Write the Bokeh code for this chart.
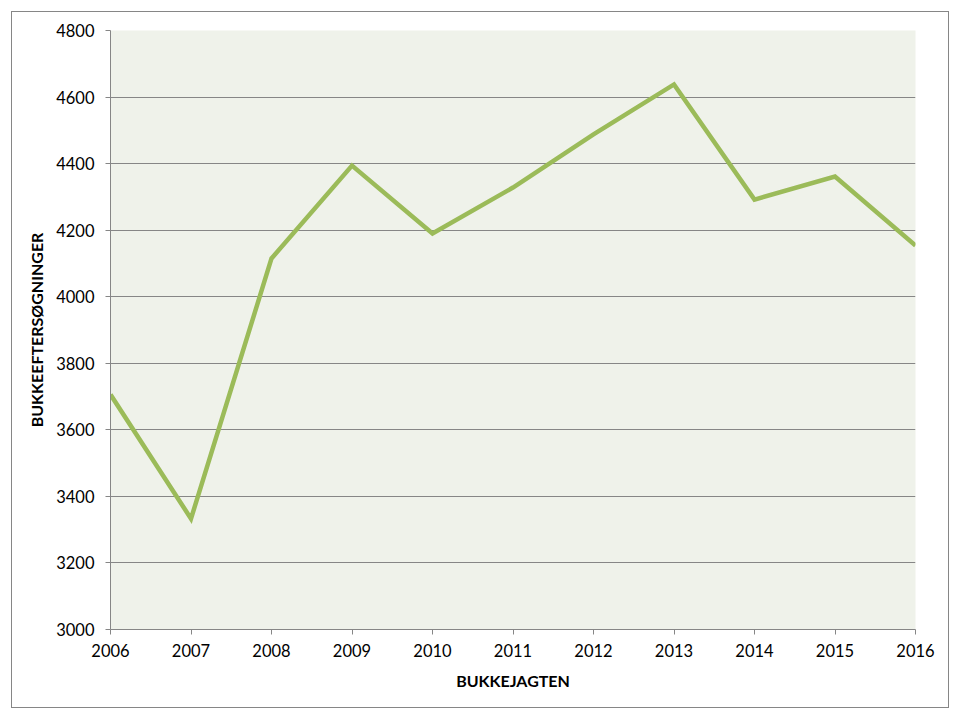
from bokeh.plotting import figure
from bokeh.models import Range1d, FixedTicker
from bokeh.embed import file_html
from bokeh.resources import INLINE

years = [2006, 2007, 2008, 2009, 2010, 2011, 2012, 2013, 2014, 2015, 2016]
values = [3706, 3333, 4115, 4394, 4190, 4328, 4488, 4638, 4292, 4361, 4154]
y_ticks = [3000, 3200, 3400, 3600, 3800, 4000, 4200, 4400, 4600, 4800]
x_title = "BUKKEJAGTEN"
y_title = "BUKKEEFTERSØGNINGER"

FONT = "Lato"
GRAY = "#868686"

p = figure(width=938, height=697, output_backend="svg", toolbar_location=None,
           x_range=Range1d(2006, 2016), y_range=Range1d(3000, 4800),
           min_border_left=98, min_border_right=35, min_border_top=18, min_border_bottom=80)
p.styles = {"border": "1px solid #868686", "margin-left": "11px", "margin-top": "11px"}

p.background_fill_color = "#EFF2EA"
p.border_fill_color = "white"
p.outline_line_color = None

p.line(years, values, line_color="#9BBB59", line_width=4.5, line_join="miter")

p.xaxis.ticker = FixedTicker(ticks=years)
p.yaxis.ticker = FixedTicker(ticks=y_ticks)
p.xgrid.grid_line_color = None
p.ygrid.grid_line_color = GRAY
p.ygrid.grid_line_width = 1

for ax in (p.xaxis, p.yaxis):
    ax.axis_line_color = GRAY
    ax.major_tick_line_color = GRAY
    ax.major_tick_in = 0
    ax.major_tick_out = 5
    ax.minor_tick_line_color = None
    ax.major_label_text_font = FONT
    ax.major_label_text_font_size = "16.5px"
    ax.major_label_text_color = "#000000"
    ax.axis_label_text_font = FONT
    ax.axis_label_text_font_size = "16px"
    ax.axis_label_text_font_style = "bold"
    ax.axis_label_text_color = "#000000"

p.xaxis.axis_label = x_title
p.yaxis.axis_label = y_title
p.xaxis.major_label_standoff = 9
p.yaxis.major_label_standoff = 11
p.xaxis.axis_label_standoff = 11
p.yaxis.axis_label_standoff = 7

open("out.html", "w").write(file_html(p, INLINE))
